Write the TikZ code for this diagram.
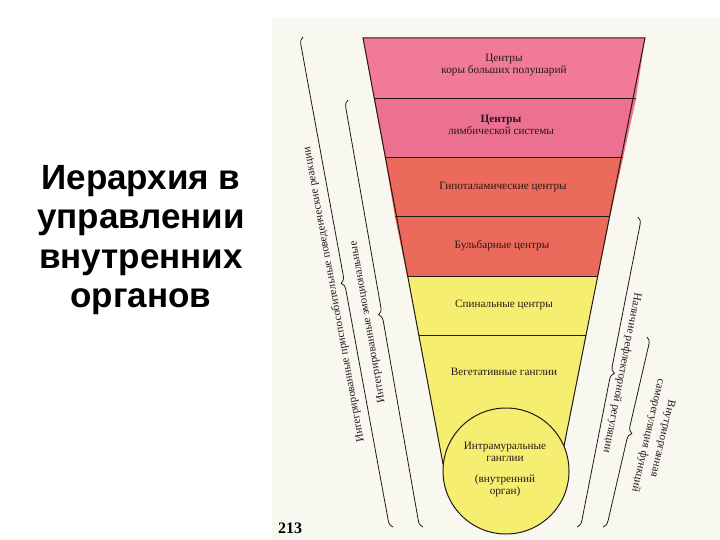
\documentclass[tikz,border=0pt]{standalone}
\usepackage{fontspec}
\setmainfont{Liberation Serif}
\newfontfamily\titlefont{Liberation Sans}
\usetikzlibrary{decorations.pathreplacing}
\definecolor{scanbg}{RGB}{248,247,240}
\definecolor{pinkA}{RGB}{240,122,152}
\definecolor{pinkB}{RGB}{236,112,146}
\definecolor{coral}{RGB}{236,106,92}
\definecolor{yel}{RGB}{246,238,112}
\definecolor{ink}{RGB}{35,25,25}
\begin{document}
\begin{tikzpicture}[x=1pt,y=-1pt,
  edge/.style={draw=ink,line width=1pt},
  lbl/.style={font=\fontsize{11.2}{12}\selectfont,text=ink,align=center,inner sep=0pt},
  sidelbl/.style={font=\fontsize{11.2}{12.5}\selectfont,text=ink,align=center,inner sep=0pt},
  bracestyle/.style={draw=ink,line width=0.8pt,decorate,decoration={brace,amplitude=7pt,aspect=0.5}}]
\useasboundingbox (0,0) rectangle (720,540);
\fill[white] (0,0) rectangle (720,540);
\fill[scanbg] (272,18) rectangle (720,540);
% funnel corner coordinates
\coordinate (L0) at (363,38);  \coordinate (R0) at (645,38);
\coordinate (L1) at (374,99);  \coordinate (R1) at (636,99);
\coordinate (L2) at (385,158); \coordinate (R2) at (623,158);
\coordinate (L3) at (395,217); \coordinate (R3) at (610,217);
\coordinate (L4) at (407,276); \coordinate (R4) at (598,276);
\coordinate (L5) at (419,335); \coordinate (R5) at (586,335);
\coordinate (L6) at (443,464); \coordinate (R6) at (564,446);
\coordinate (C) at (506,471);
% fills
\fill[pinkA] (L0) -- (R0) -- (R1) -- (L1) -- cycle;
\fill[pinkB] (L1) -- (R1) -- (R2) -- (L2) -- cycle;
\fill[coral] (L2) -- (R2) -- (R3) -- (L3) -- cycle;
\fill[coral] (L3) -- (R3) -- (R4) -- (L4) -- cycle;
\fill[yel] (L4) -- (R4) -- (R5) -- (L5) -- cycle;
\fill[yel] (L5) -- (R5) -- (R6) -- (L6) -- cycle;
\fill[yel] (C) circle[radius=63];
% outlines
\draw[edge] (L6) -- (L0) -- (R0) -- (R6);
\draw[edge] (L1) -- (R1);
\draw[edge] (L2) -- (R2);
\draw[edge] (L3) -- (R3);
\draw[edge] (L4) -- (R4);
\draw[edge] (L5) -- (R5);
\draw[edge] (C) circle[radius=63];
% band labels
\node[lbl] (b1) at (504,65) {Центры\\коры больших полушарий};
\node[lbl] (b2) at (501,125) {\textbf{Центры}\\лимбической системы};
\node[lbl] (b3) at (503,187) {Гипоталамические центры};
\node[lbl] (b4) at (502,246) {Бульбарные центры};
\node[lbl] (b5) at (504,305) {Спинальные центры};
\node[lbl] (b6) at (504,372) {Вегетативные ганглии};
\node[lbl] (b7) at (505,452) {Интрамуральные\\ганглии};
\node[lbl] (b8) at (505,486) {(внутренний\\орган)};
% braces
\coordinate (lo1) at (393,527); \coordinate (lo2) at (303,37);
\coordinate (li1) at (423,527); \coordinate (li2) at (348,100);
\coordinate (ro1) at (638,217); \coordinate (ro2) at (577,527);
\coordinate (ri1) at (647,337); \coordinate (ri2) at (603,527);
\draw[bracestyle] (lo1) -- (lo2);
\draw[bracestyle] (li1) -- (li2);
\draw[bracestyle] (ro1) -- (ro2);
\draw[bracestyle] (ri1) -- (ri2);
\node[sidelbl,rotate=100.4] (tlo) at (334,295) {Интегрированные приспособительные поведенческие реакции};
\node[sidelbl,rotate=100] (tli) at (368,322) {Интегрированные эмоциональные};
\node[sidelbl,rotate=-101] (tro) at (622,373) {Наличие рефлекторной регуляции};
\node[sidelbl,rotate=-103,font=\fontsize{11.2}{15}\selectfont] (tri) at (655,437) {Внутриорганная\\саморегуляция функций};
% page number
\node[font=\bfseries\fontsize{16}{16}\selectfont,inner sep=0pt] (pg) at (290,528) {213};
% title
\node[font=\titlefont\bfseries\fontsize{35}{39.5}\selectfont,align=center,inner sep=0pt] (title) at (141,240) {Иерархия в\\управлении\\внутренних\\органов};
\end{tikzpicture}
\end{document}
